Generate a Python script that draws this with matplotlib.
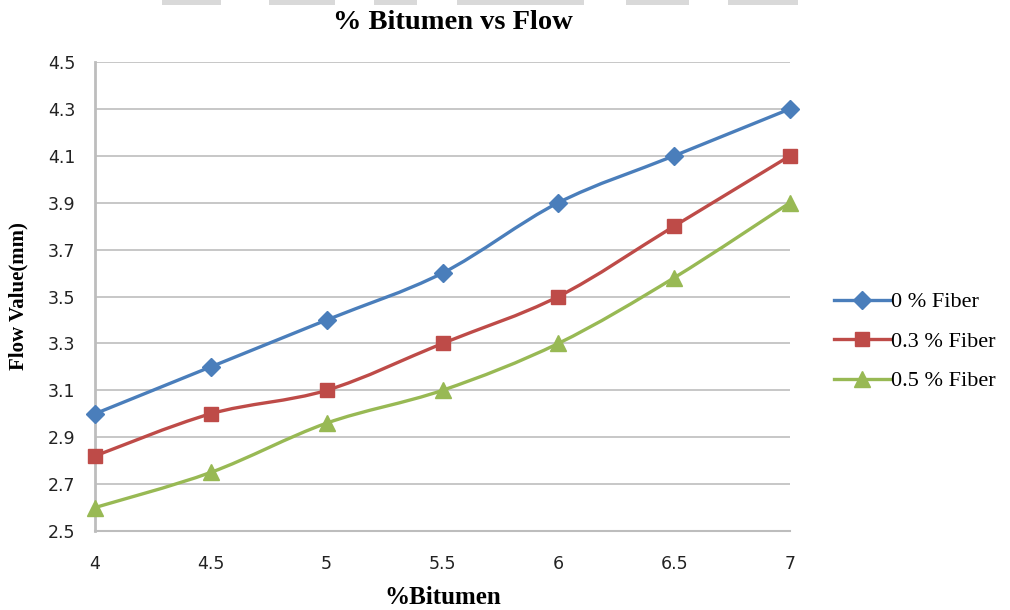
import numpy as np
import matplotlib
matplotlib.use('Agg')
import matplotlib.pyplot as plt
import matplotlib.patches as mpatches
from matplotlib.path import Path
from matplotlib.lines import Line2D

bitumen = [4, 4.5, 5, 5.5, 6, 6.5, 7]
flow_0 = [3.0, 3.2, 3.4, 3.6, 3.9, 4.1, 4.3]
flow_03 = [2.82, 3.0, 3.1, 3.3, 3.5, 3.8, 4.1]
flow_05 = [2.6, 2.75, 2.96, 3.1, 3.3, 3.58, 3.9]
labels = ['0 % Fiber', '0.3 % Fiber', '0.5 % Fiber']
yticks = [2.5, 2.7, 2.9, 3.1, 3.3, 3.5, 3.7, 3.9, 4.1, 4.3, 4.5]
xticks = [4, 4.5, 5, 5.5, 6, 6.5, 7]

SERIF = ['Liberation Serif', 'DejaVu Serif']


def smooth_path(x, y):
    # bezier segments through every point (excel-style smoothed line)
    pts = np.column_stack([x, y]).astype(float)
    n = len(pts)
    verts = [pts[0]]
    codes = [Path.MOVETO]
    for i in range(n - 1):
        p0 = pts[i - 1] if i > 0 else pts[i]
        p1 = pts[i]
        p2 = pts[i + 1]
        p3 = pts[i + 2] if i + 2 < n else pts[i + 1]
        c1 = p1 + (p2 - p0) / 6.0
        c2 = p2 - (p3 - p1) / 6.0
        verts += [c1, c2, p2]
        codes += [Path.CURVE4] * 3
    return Path(verts, codes)


fig = plt.figure(figsize=(10.1, 6.1), dpi=100)
ax = fig.add_axes([95 / 1010, 79 / 610, 695 / 1010, 469 / 610])

series = [
    (flow_0, '#4a7ebb', 'D', 9),
    (flow_03, '#be4b48', 's', 10),
    (flow_05, '#98b954', '^', 11),
]
handles = []
for (vals, col, mk, ms), lab in zip(series, labels):
    ax.add_patch(mpatches.PathPatch(smooth_path(bitumen, vals), facecolor='none',
                                    edgecolor=col, lw=2.4, zorder=3,
                                    capstyle='round', joinstyle='round'))
    ax.plot(bitumen, vals, linestyle='none', marker=mk, ms=ms, color=col,
            markeredgecolor=col, zorder=4, clip_on=False)
    handles.append(Line2D([], [], color=col, lw=2.4, marker=mk, ms=ms))

ax.set_xlim(4, 7)
ax.set_ylim(2.5, 4.5)
ax.set_xticks(xticks)
ax.set_xticklabels([f'{v:g}' for v in xticks])
ax.set_yticks(yticks)
ax.set_yticklabels([f'{v:.1f}' for v in yticks])
ax.tick_params(axis='both', length=0, labelsize=12.5, colors='#222222')
ax.tick_params(axis='x', pad=17)
ax.tick_params(axis='y', pad=14)
ax.grid(axis='y', color='#bdbdbd', lw=1.2)
ax.set_axisbelow(True)
for s in ['top', 'right']:
    ax.spines[s].set_visible(False)
ax.spines['left'].set_color('#bdbdbd')
ax.spines['left'].set_linewidth(2)
ax.spines['bottom'].set_color('#bdbdbd')
ax.spines['bottom'].set_linewidth(1.5)

ax.set_title('% Bitumen vs Flow', family=SERIF, fontweight='bold', fontsize=20.5,
             pad=24, x=0.515)
ax.set_xlabel('%Bitumen', family=SERIF, fontweight='bold', fontsize=18,
              labelpad=10)
ax.set_ylabel('Flow Value(mm)', family=SERIF, fontweight='bold', fontsize=15,
              labelpad=14)

fig.legend(handles, labels, loc='center left', bbox_to_anchor=(0.806, 0.44),
           frameon=False, handlelength=2.5, handletextpad=0.05,
           labelspacing=0.85, prop={'family': SERIF, 'size': 16})

# light gray blocks along the top edge
for x0, x1 in [(162, 221), (269, 335), (374, 417), (457, 584), (626, 689), (728, 798)]:
    fig.patches.append(mpatches.Rectangle((x0 / 1010, 605 / 610), (x1 - x0) / 1010,
                                          5 / 610, transform=fig.transFigure,
                                          facecolor='#d9d9d9', edgecolor='none'))

fig.savefig('out.png', dpi=100)
